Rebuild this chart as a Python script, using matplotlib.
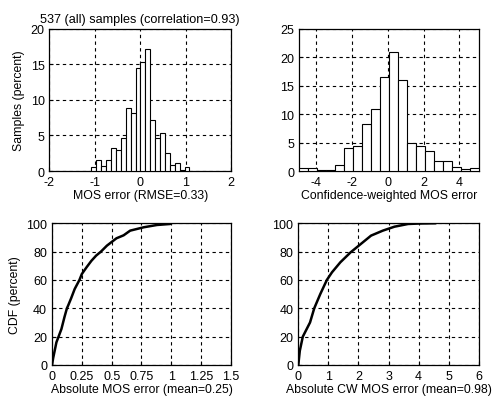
import numpy as np
import matplotlib
matplotlib.use("Agg")
import matplotlib.pyplot as plt

plt.rcParams['font.family'] = ['Liberation Sans', 'DejaVu Sans']
plt.rcParams['font.size'] = 8.8
plt.rcParams['axes.unicode_minus'] = False

# histogram of MOS error (percent of samples), 20 bins
mos_edges = np.linspace(-1.076, 1.084, 21)
mos_hist = [0.5, 1.5, 0.7, 1.5, 3.2, 2.9, 4.7, 8.9, 8.2, 14.5,
            15.3, 17.1, 7.1, 4.7, 5.4, 2.5, 0.85, 1.2, 0.2, 0.5]

# histogram of confidence-weighted MOS error, 20 bins
cw_edges = np.linspace(-4.98, 5.08, 21)
cw_hist = [0.47, 0.47, 0.23, 0.23, 1.05, 4.1, 4.4, 8.3, 10.8, 16.5,
           20.9, 15.9, 4.85, 4.4, 3.45, 1.8, 1.7, 0.76, 0.35, 0.53]

# CDF of absolute MOS error
abs_x = [0, 0.01, 0.037, 0.055, 0.079, 0.105, 0.125, 0.135, 0.16, 0.19, 0.23,
         0.25, 0.29, 0.33, 0.37, 0.41, 0.46, 0.54, 0.6, 0.655, 0.77, 0.88, 0.99, 1.0]
abs_cdf = [0, 5, 16, 20, 25.4, 34, 40, 41.9, 47, 53.6, 60,
           64.2, 69, 73.5, 77.2, 80, 84.2, 89.4, 91.5, 94.8, 97.2, 98.8, 99.5, 100]

# CDF of absolute CW MOS error
cw_x = [0, 0.05, 0.15, 0.39, 0.53, 0.73, 0.95, 1.12, 1.4, 1.74, 2.08,
        2.42, 2.81, 3.2, 3.65, 4.0, 4.55]
cw_cdf = [0, 10, 20, 30, 40, 50, 60, 65.4, 72.5, 79.5, 85.4,
          91.3, 94.8, 97.6, 99.5, 99.8, 100]

fig = plt.figure(figsize=(4.92, 4.02), dpi=100)

def style(ax):
    ax.grid(True, color='black', linestyle=(0, (3, 3)), linewidth=0.8)
    ax.set_axisbelow(False)
    ax.tick_params(direction='in', length=3, pad=3.5, colors='black', labelsize=9)
    for s in ax.spines.values():
        s.set_linewidth(0.9)

ax1 = fig.add_axes([0.1006, 0.572, 0.369, 0.3545])
ax1.bar(mos_edges[:-1], mos_hist, width=np.diff(mos_edges), align='edge',
        facecolor='white', edgecolor='black', linewidth=0.8, zorder=3)
ax1.set_xlim(-2, 2)
ax1.set_ylim(0, 20)
ax1.set_xticks([-2, -1, 0, 1, 2])
ax1.set_yticks([0, 5, 10, 15, 20])
ax1.set_title('537 (all) samples (correlation=0.93)', pad=5, fontsize=9.1)
ax1.set_xlabel('MOS error (RMSE=0.33)', labelpad=1)
ax1.set_ylabel('Samples (percent)', labelpad=4)
style(ax1)

ax2 = fig.add_axes([0.6077, 0.572, 0.365, 0.3545])
ax2.bar(cw_edges[:-1], cw_hist, width=np.diff(cw_edges), align='edge',
        facecolor='white', edgecolor='black', linewidth=0.8, zorder=3)
ax2.set_xlim(cw_edges[0], cw_edges[-1])
ax2.set_ylim(0, 25)
ax2.set_xticks([-4, -2, 0, 2, 4])
ax2.set_yticks([0, 5, 10, 15, 20, 25])
ax2.set_xlabel('Confidence-weighted MOS error', labelpad=1)
style(ax2)

ax3 = fig.add_axes([0.1057, 0.0896, 0.3638, 0.3525])
ax3.plot(abs_x, abs_cdf, color='black', linewidth=1.8, zorder=3)
ax3.set_xlim(0, 1.5)
ax3.set_ylim(0, 100)
ax3.set_xticks([0, 0.25, 0.5, 0.75, 1, 1.25, 1.5])
ax3.set_xticklabels(['0', '0.25', '0.5', '0.75', '1', '1.25', '1.5'])
ax3.set_yticks([0, 20, 40, 60, 80, 100])
ax3.set_xlabel('Absolute MOS error (mean=0.25)', labelpad=1)
ax3.set_ylabel('CDF (percent)', labelpad=4)
style(ax3)

ax4 = fig.add_axes([0.6063, 0.0896, 0.3667, 0.3525])
ax4.plot(cw_x, cw_cdf, color='black', linewidth=1.8, zorder=3)
ax4.set_xlim(0, 6)
ax4.set_ylim(0, 100)
ax4.set_xticks([0, 1, 2, 3, 4, 5, 6])
ax4.set_yticks([0, 20, 40, 60, 80, 100])
ax4.set_xlabel('Absolute CW MOS error (mean=0.98)', labelpad=1)
style(ax4)

fig.savefig('out.png', dpi=100)
